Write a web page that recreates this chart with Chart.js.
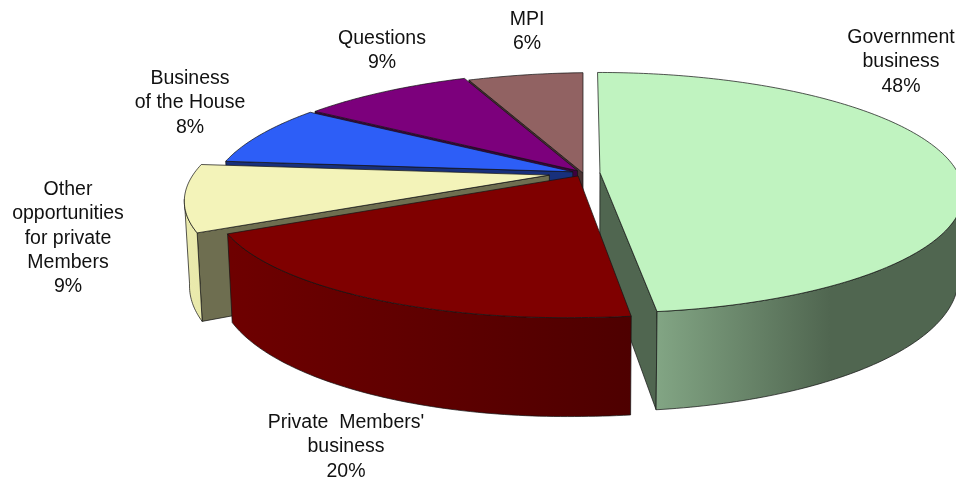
<!DOCTYPE html>
<html>
<head>
<meta charset="utf-8">
<style>
  html, body { margin: 0; padding: 0; background: #fff; overflow: hidden; }
  canvas { display: block; }
</style>
</head>
<body>
<canvas id="pie3d" width="956" height="481"></canvas>
<script src="https://cdn.jsdelivr.net/npm/chart.js@4"></script>
<script>
const categories = ['Government business', "Private  Members' business", 'Other opportunities for private Members', 'Business of the House', 'Questions', 'MPI'];
const values = [48, 20, 9, 8, 9, 6];
const labelLines = [
    ['Government', 'business'],
    ["Private  Members'", 'business'],
    ['Other', 'opportunities', 'for private', 'Members'],
    ['Business', 'of the House'],
    ['Questions'],
    ['MPI']
];
const explode = [17, 10, 34, 11, 9, 0];
const topColors = ['#c0f3c0', '#7f0000', '#f3f3b9', '#2d5ef7', '#7c007c', '#916262'];
const wallLeft = ['#82a584', '#6e0000', '#ebebae', '#18307c', '#3e003e', '#4a3131'];
const wallRight = ['#506650', '#4e0000', '#e4e4a4', '#18307c', '#3e003e', '#4a3131'];
const faceColors = ['#506650', '#500000', '#6e6e50', '#18307c', '#3e003e', '#4a3131'];
const labelX = [901, 346, 68, 190, 382, 527];
const labelY = [37.5, 422.5, 189.5, 78.5, 38.5, 19.5];

// where the tilted disc sits on the page
const CX = 583, CY = 173, RX = 358, RY = 117, PERSP = 1 / 6, DEPTH = 82, LOW_SHRINK = 0.987, LEFT_SAG = 0.011;
const drawOrder = [5, 4, 3, 2, 0, 1];
const wallSpan = [[657, 830], [232, 632], [182, 240], [228, 320], [320, 470], [470, 585]];
const SILHOUETTE = Math.acos(-PERSP);

function project(px, pz, low) {
    const v = pz / RX;
    const s = 1 / (1 - PERSP * v);
    return {
        x: CX + px * s * (low ? LOW_SHRINK : 1),
        y: CY + RY * v * s + (low ? DEPTH * s : 0) + Math.max(0, -px * s) * LEFT_SAG
    };
}

function rimPoint(a, off, mid, low) {
    return project(off * Math.sin(mid) + RX * Math.sin(a), -off * Math.cos(mid) - RX * Math.cos(a), low);
}

function apexPoint(off, mid, low) {
    return project(off * Math.sin(mid), -off * Math.cos(mid), low);
}

function fillPath(ctx, pts, fill) {
    ctx.beginPath();
    pts.forEach((p, i) => i ? ctx.lineTo(p.x, p.y) : ctx.moveTo(p.x, p.y));
    ctx.closePath();
    ctx.fillStyle = fill;
    ctx.fill();
    ctx.stroke();
}

function sampleAngles(a0, a1) {
    const out = [];
    const n = Math.max(2, Math.ceil((a1 - a0) * 60));
    for (let i = 0; i <= n; i++) out.push(a0 + (a1 - a0) * i / n);
    return out;
}

function drawSlice(ctx, arc, i) {
    const a0 = arc.startAngle + Math.PI / 2;
    const a1 = arc.endAngle + Math.PI / 2;
    const mid = (a0 + a1) / 2;
    const off = explode[i];

    ctx.lineWidth = 0.9;
    ctx.strokeStyle = 'rgba(20,20,20,0.8)';
    ctx.lineJoin = 'round';

    // cut face that looks towards the viewer
    const faceAngle = Math.sin(a0) < -0.01 ? a0 : (Math.sin(a1) > 0.01 ? a1 : null);
    if (faceAngle !== null) {
        fillPath(ctx, [
            apexPoint(off, mid, false),
            rimPoint(faceAngle, off, mid, false),
            rimPoint(faceAngle, off, mid, true),
            apexPoint(off, mid, true)
        ], faceColors[i]);
    }

    // outer wall, only the part between the silhouette points
    const w0 = Math.max(a0, SILHOUETTE);
    const w1 = Math.min(a1, Math.PI * 2 - SILHOUETTE);
    if (w1 > w0) {
        const angles = sampleAngles(w0, w1);
        const upper = angles.map(a => rimPoint(a, off, mid, false));
        const lower = angles.map(a => rimPoint(a, off, mid, true)).reverse();
        const g = ctx.createLinearGradient(wallSpan[i][0], 0, wallSpan[i][1], 0);
        g.addColorStop(0, wallLeft[i]);
        g.addColorStop(1, wallRight[i]);
        fillPath(ctx, upper.concat(lower), g);
    }

    // top surface
    const top = [apexPoint(off, mid, false)].concat(sampleAngles(a0, a1).map(a => rimPoint(a, off, mid, false)));
    fillPath(ctx, top, topColors[i]);
}

const tiltedPie = {
    id: 'tiltedPie',
    beforeDatasetDraw(chart, args) {
        const arcs = chart.getDatasetMeta(args.index).data;
        chart.ctx.save();
        drawOrder.forEach(i => drawSlice(chart.ctx, arcs[i], i));
        chart.ctx.restore();
        return false;
    },
    afterDraw(chart) {
        const ctx = chart.ctx;
        ctx.save();
        ctx.font = '19.5px "Liberation Sans", Arial, sans-serif';
        ctx.fillStyle = '#111';
        ctx.textAlign = 'center';
        ctx.textBaseline = 'middle';
        labelLines.forEach((lines, i) => {
            lines.concat(values[i] + '%').forEach((line, j) => {
                ctx.fillText(line, labelX[i], labelY[i] + j * 24.4);
            });
        });
        ctx.restore();
    }
};

new Chart(document.getElementById('pie3d').getContext('2d'), {
    type: 'pie',
    data: {
        labels: categories,
        datasets: [{ data: values, backgroundColor: topColors, borderWidth: 0 }]
    },
    options: {
        responsive: false,
        animation: false,
        plugins: { legend: { display: false }, tooltip: { enabled: false } }
    },
    plugins: [tiltedPie]
});
</script>
</body>
</html>
